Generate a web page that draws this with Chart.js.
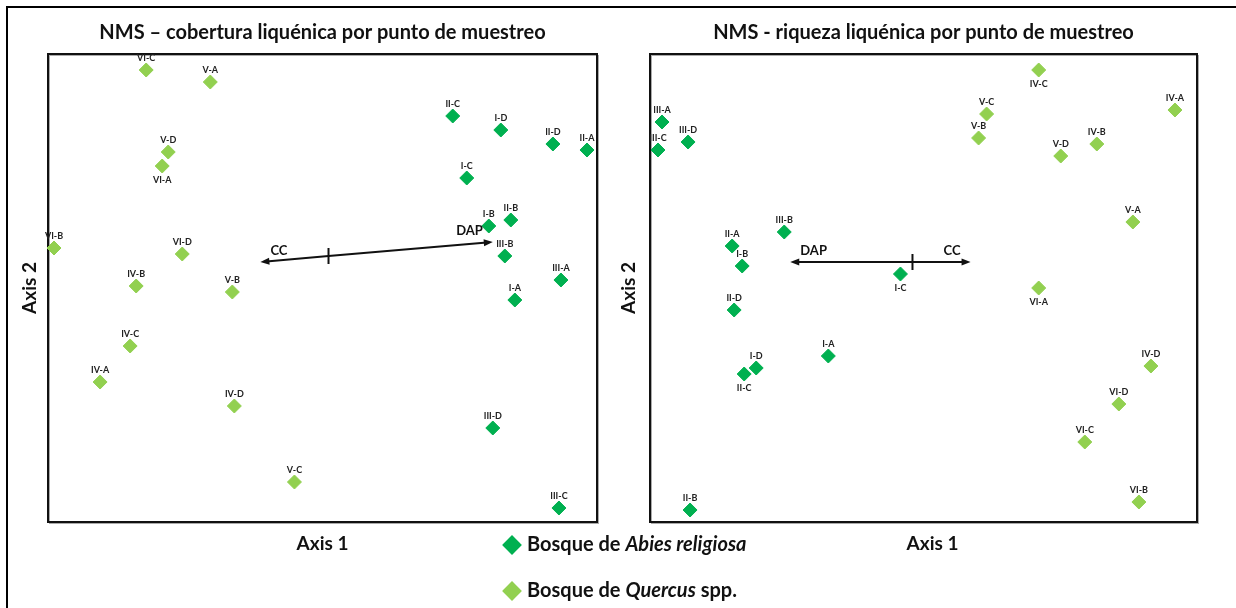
<!DOCTYPE html>
<html>
<head>
<meta charset="utf-8">
<script src="https://cdn.jsdelivr.net/npm/chart.js@4.4.0/dist/chart.umd.min.js"></script>
<style>
body { margin: 0; background: #fff; }
#wrap { position: relative; width: 1236px; height: 608px; overflow: hidden; font-family: Lato, sans-serif; }
#marco { position: absolute; left: 6px; top: 6px; width: 1250px; height: 620px; border-top: 2px solid #000; border-left: 2px solid #000; }
#c1 { position: absolute; left: 0; top: 0; }
#c2 { position: absolute; left: 620px; top: 0; }
.leyenda { position: absolute; left: 502px; font-weight: bold; font-size: 20px; color: #111; line-height: 22px; }
.rombo { display: inline-block; width: 14px; height: 14px; transform: rotate(45deg); margin: 0 8px 0 3px; vertical-align: -1px; }
</style>
</head>
<body>
<div id="wrap">
  <div id="marco"></div>
  <canvas id="c1" width="620" height="608"></canvas>
  <canvas id="c2" width="616" height="608"></canvas>
  <div class="leyenda" style="top:532px"><span class="rombo" style="background:#00b050"></span>Bosque de <i>Abies religiosa</i></div>
  <div class="leyenda" style="top:578px"><span class="rombo" style="background:#92d050"></span>Bosque de <i>Quercus</i> spp.</div>
</div>
<script>
// nombres de los puntos de muestreo
var nombresAbies = ['I-A', 'I-B', 'I-C', 'I-D', 'II-A', 'II-B', 'II-C', 'II-D', 'III-A', 'III-B', 'III-C', 'III-D'];
var nombresQuercus = ['IV-A', 'IV-B', 'IV-C', 'IV-D', 'V-A', 'V-B', 'V-C', 'V-D', 'VI-A', 'VI-B', 'VI-C', 'VI-D'];

// NMS cobertura
var abiesX1 = [0.93, 0.80, 0.69, 0.86, 1.29, 0.91, 0.62, 1.12, 1.16, 0.88, 1.15, 0.82];
var abiesY1 = [-0.22, 0.15, 0.39, 0.63, 0.53, 0.18, 0.70, 0.56, -0.12, 0.00, -1.26, -0.86];
var quercusX1 = [-1.14, -0.96, -0.99, -0.47, -0.59, -0.48, -0.17, -0.80, -0.83, -1.37, -0.91, -0.73];
var quercusY1 = [-0.63, -0.15, -0.45, -0.75, 0.87, -0.18, -1.13, 0.52, 0.45, 0.04, 0.93, 0.01];

// NMS riqueza
var abiesX2 = [-0.42, -0.85, -0.06, -0.78, -0.90, -1.11, -0.84, -0.89, -1.25, -0.64, -1.27, -1.12];
var abiesY2 = [-0.47, -0.02, -0.06, -0.53, 0.08, -1.24, -0.56, -0.24, 0.70, 0.15, 0.56, 0.60];
var quercusX2 = [1.31, 0.92, 0.63, 1.19, 1.10, 0.33, 0.37, 0.74, 0.63, 1.13, 0.86, 1.03];
var quercusY2 = [0.76, 0.59, 0.96, -0.52, 0.20, 0.62, 0.74, 0.53, -0.13, -1.20, -0.90, -0.71];

// vectores (biplot)
var vectores = ['CC', 'DAP'];
var vectorX1 = [-0.34, 0.82];
var vectorY1 = [-0.03, 0.07];
var vectorX2 = [0.29, -0.61];
var vectorY2 = [0.00, 0.00];

// etiquetas que van debajo del punto
var abajo1 = ['VI-A'];
var abajo2 = ['IV-C', 'I-C', 'VI-A', 'II-C'];

var verde = '#00b050';
var verdeClaro = '#92d050';

function puntos(xs, ys) {
    var out = [];
    for (var i = 0; i < xs.length; i++) out.push({ x: xs[i], y: ys[i] });
    return out;
}

function flecha(ctx, x0, y0, x1, y1) {
    var ang = Math.atan2(y1 - y0, x1 - x0);
    ctx.beginPath();
    ctx.moveTo(x0, y0);
    ctx.lineTo(x1 - 6 * Math.cos(ang), y1 - 6 * Math.sin(ang));
    ctx.stroke();
    ctx.beginPath();
    ctx.moveTo(x1, y1);
    ctx.lineTo(x1 - 9 * Math.cos(ang) + 3.5 * Math.sin(ang), y1 - 9 * Math.sin(ang) - 3.5 * Math.cos(ang));
    ctx.lineTo(x1 - 9 * Math.cos(ang) - 3.5 * Math.sin(ang), y1 - 9 * Math.sin(ang) + 3.5 * Math.cos(ang));
    ctx.closePath();
    ctx.fill();
}

var decoracion = {
    id: 'decoracion',
    beforeDatasetsDraw: function (chart) {
        var ctx = chart.ctx, a = chart.chartArea;
        ctx.save();
        ctx.strokeStyle = '#aaa';
        ctx.lineWidth = 1;
        ctx.strokeRect(a.left + 1.5, a.top + 1.5, a.width, a.height);
        ctx.strokeStyle = '#111';
        ctx.lineWidth = 2;
        ctx.strokeRect(a.left, a.top, a.width, a.height);
        ctx.restore();
    },
    afterDatasetsDraw: function (chart, args, o) {
        var ctx = chart.ctx, a = chart.chartArea;
        var sx = chart.scales.x, sy = chart.scales.y;
        ctx.save();
        ctx.fillStyle = '#111';
        ctx.textAlign = 'center';
        ctx.textBaseline = 'middle';

        // titulo y ejes
        ctx.font = 'bold 20px Lato';
        ctx.fillText(o.titulo, (a.left + a.right) / 2, 33);
        ctx.font = 'bold 19px Lato';
        ctx.fillText('Axis 1', (a.left + a.right) / 2 + o.eje1dx, 544);
        ctx.save();
        ctx.translate(a.left + o.eje2dx, (a.top + a.bottom) / 2);
        ctx.rotate(-Math.PI / 2);
        ctx.fillText('Axis 2', 0, 0);
        ctx.restore();

        // etiquetas de puntos
        ctx.font = 'bold 9px Lato';
        ctx.fillStyle = '#222';
        chart.data.datasets.forEach(function (ds, i) {
            var meta = chart.getDatasetMeta(i);
            meta.data.forEach(function (el, j) {
                var nom = ds.nombres[j];
                var dy = o.abajo.indexOf(nom) >= 0 ? 14 : -12;
                ctx.fillText(nom, el.x, el.y + dy);
            });
        });

        // vectores
        var x0 = sx.getPixelForValue(0), y0 = sy.getPixelForValue(0);
        ctx.strokeStyle = '#111';
        ctx.fillStyle = '#111';
        ctx.lineWidth = 2;
        ctx.font = 'bold 13px Lato';
        for (var k = 0; k < vectores.length; k++) {
            var x1 = sx.getPixelForValue(o.vx[k]), y1 = sy.getPixelForValue(o.vy[k]);
            flecha(ctx, x0, y0, x1, y1);
            var w = ctx.measureText(vectores[k]).width;
            var lado = x1 > x0 ? -1 : 1;
            ctx.fillText(vectores[k], x1 + lado * (w / 2 + 10), y1 - 11);
        }
        ctx.beginPath();
        ctx.moveTo(x0, y0 - 8);
        ctx.lineTo(x0, y0 + 8);
        ctx.stroke();
        ctx.restore();
    }
};

function grafica(id, ax, ay, qx, qy, rangos, pad, deco) {
    return new Chart(document.getElementById(id), {
        type: 'scatter',
        data: {
            datasets: [{
                label: 'Bosque de Abies religiosa',
                nombres: nombresAbies,
                data: puntos(ax, ay),
                backgroundColor: verde,
                borderColor: verde,
                pointStyle: 'rectRot',
                pointRadius: 7,
                clip: false
            }, {
                label: 'Bosque de Quercus spp.',
                nombres: nombresQuercus,
                data: puntos(qx, qy),
                backgroundColor: verdeClaro,
                borderColor: verdeClaro,
                pointStyle: 'rectRot',
                pointRadius: 7,
                clip: false
            }]
        },
        options: {
            responsive: false,
            animation: false,
            layout: { padding: pad },
            scales: {
                x: { display: false, min: rangos[0], max: rangos[1] },
                y: { display: false, min: rangos[2], max: rangos[3] }
            },
            plugins: {
                legend: { display: false },
                tooltip: { enabled: false },
                decoracion: deco
            }
        },
        plugins: [decoracion]
    });
}

var rango1 = [-1.40, 1.34, -1.33, 1.01];
var rango2 = [-1.31, 1.42, -1.30, 1.04];

grafica('c1', abiesX1, abiesY1, quercusX1, quercusY1, rango1,
    { left: 48, top: 54, right: 23, bottom: 86 },
    { titulo: 'NMS \u2013 cobertura liqu\u00e9nica por punto de muestreo', eje1dx: 0, eje2dx: -18,
      abajo: abajo1, vx: vectorX1, vy: vectorY1 });

grafica('c2', abiesX2, abiesY2, quercusX2, quercusY2, rango2,
    { left: 30, top: 54, right: 39, bottom: 86 },
    { titulo: 'NMS - riqueza liqu\u00e9nica por punto de muestreo', eje1dx: 9, eje2dx: -21,
      abajo: abajo2, vx: vectorX2, vy: vectorY2 });
</script>
</body>
</html>
